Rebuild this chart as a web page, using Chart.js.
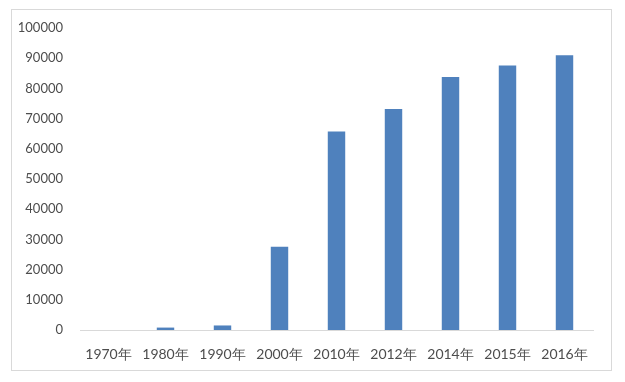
<!DOCTYPE html>
<html>
<head>
<meta charset="utf-8">
<script src="https://cdn.jsdelivr.net/npm/chart.js@4/dist/chart.umd.min.js"></script>
<style>
html,body{margin:0;padding:0;background:#fff;}
#wrap{position:absolute;left:0;top:0;width:625px;height:382px;}
</style>
</head>
<body>
<div id="wrap"><canvas id="c" width="625" height="382"></canvas></div>
<script>
const categories = ["1970年","1980年","1990年","2000年","2010年","2012年","2014年","2015年","2016年"];
const values = [0, 800, 1500, 27600, 65700, 73200, 83800, 87600, 91000];
const yTicks = [0,10000,20000,30000,40000,50000,60000,70000,80000,90000,100000];

const frame = {
  id: 'frame',
  beforeDraw(chart){
    const ctx = chart.ctx;
    ctx.save();
    ctx.fillStyle = '#ffffff';
    ctx.fillRect(0,0,chart.width,chart.height);
    ctx.strokeStyle = '#d9d9d9';
    ctx.lineWidth = 1;
    ctx.strokeRect(11.5, 9.5, 600, 361);
    ctx.restore();
  }
};

new Chart(document.getElementById('c'), {
  type: 'bar',
  data: {
    labels: categories,
    datasets: [{
      data: values,
      backgroundColor: '#4F81BD',
      borderWidth: 0,
      barPercentage: 0.6,
      categoryPercentage: 0.51
    }]
  },
  options: {
    responsive: false,
    animation: false,
    events: [],
    layout: { padding: { top: 28, right: 32, bottom: 0, left: 0 } },
    plugins: { legend: { display: false }, tooltip: { enabled: false } },
    scales: {
      x: {
        grid: { display: false },
        border: { display: true, color: '#d9d9d9', width: 1 },
        ticks: { color: '#4d4d4d', font: { family: 'Lato', size: 14 }, padding: 8, maxRotation: 0 },
        afterFit(scale){ scale.height = 52; }
      },
      y: {
        min: 0, max: 100000,
        afterBuildTicks(scale){ scale.ticks = yTicks.map(v => ({ value: v })); },
        grid: { display: false },
        border: { display: false },
        ticks: { color: '#4d4d4d', font: { family: 'Lato', size: 13 }, padding: 9, callback: v => String(v) },
        afterFit(scale){ scale.width = 80; }
      }
    }
  },
  plugins: [frame]
});
</script>
</body>
</html>
